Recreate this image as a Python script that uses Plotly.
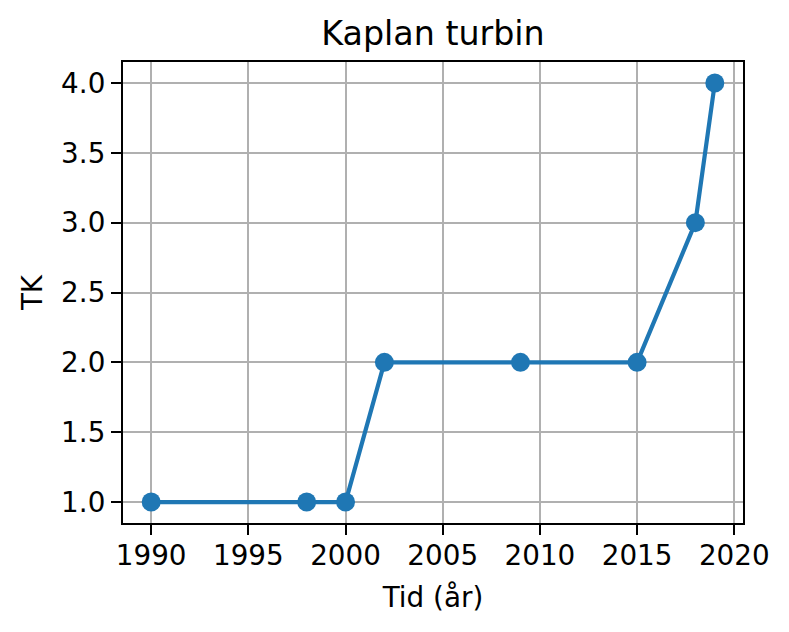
import plotly.graph_objects as go

years = [1990, 1998, 2000, 2002, 2009, 2015, 2018, 2019]
tk = [1, 1, 1, 2, 2, 2, 3, 4]
title = "Kaplan turbin"
xlabel = "Tid (år)"
ylabel = "TK"

FONT = "DejaVu Sans"
fig = go.Figure()
fig.add_trace(go.Scatter(
    x=years, y=tk, mode="lines+markers",
    line=dict(color="#1f77b4", width=4.2),
    marker=dict(color="#1f77b4", size=19),
    showlegend=False,
))

axis_common = dict(
    showline=True, linecolor="black", linewidth=2.2, mirror=True,
    showgrid=True, gridcolor="#b0b0b0", gridwidth=2.2,
    ticks="outside", ticklen=10, tickwidth=2.2, tickcolor="black",
    tickfont=dict(family=FONT, size=27.8, color="black"),
    zeroline=False, automargin=False,
)

# page body has an 8px margin, so the figure is shifted accordingly
fig.update_layout(
    width=781, height=624,
    margin=dict(l=115, r=46, t=54, b=109),
    paper_bgcolor="white", plot_bgcolor="white",
    title=dict(text=title, x=0.5, xref="paper", xanchor="center",
               y=1, yref="paper", yanchor="bottom", pad=dict(b=17),
               font=dict(family=FONT, size=33.3, color="black")),
    xaxis=dict(range=[1988.55, 2020.45], tick0=1990, dtick=5,
               ticklabelstandoff=-3,
               title=dict(text=xlabel, font=dict(family=FONT, size=27.8, color="black"), standoff=16),
               **axis_common),
    yaxis=dict(range=[0.85, 4.15], tick0=1.0, dtick=0.5, tickformat=".1f",
               title=dict(text=ylabel, font=dict(family=FONT, size=27.8, color="black"), standoff=10),
               **axis_common),
)

fig.write_html("out.html")
